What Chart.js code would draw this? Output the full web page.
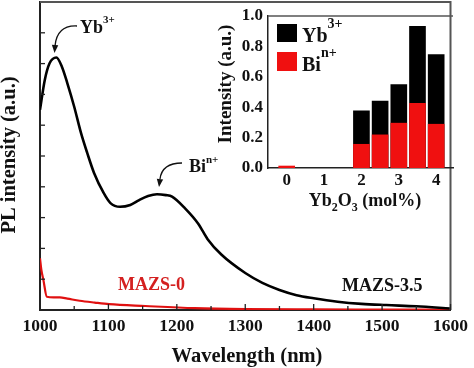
<!DOCTYPE html>
<html><head><meta charset="utf-8">
<script src="https://cdn.jsdelivr.net/npm/chart.js@4.4.0/dist/chart.umd.min.js"></script>
<style>
html,body{margin:0;padding:0;background:#fff;}
#wrap{position:relative;width:474px;height:368px;overflow:hidden;}
#main{position:absolute;left:0;top:0;}
#inset{position:absolute;left:215px;top:0;}
</style></head><body>
<div id="wrap"><canvas id="main" width="474" height="368"></canvas><canvas id="inset" width="242" height="222"></canvas></div>
<script>
// ---- data ----
const wavelengthMAZS35 = [1000,1007,1014,1024,1032,1040,1050,1060,1069,1079,1093,1103,1117,1132,1145,1158,1171,1184,1193,1212,1231,1245,1265,1300,1325,1350,1375,1400,1435,1470,1506,1550,1600];
const intensityMAZS35  = [6.5,7.47,8.01,8.2,7.9,7.36,6.6,5.74,5.1,4.45,3.8,3.47,3.35,3.41,3.57,3.7,3.76,3.73,3.68,3.3,2.81,2.3,1.8,1.2,0.88,0.65,0.48,0.38,0.27,0.2,0.16,0.12,0.05];
const wavelengthMAZS0 = [1000,1002,1005,1010,1020,1029,1040,1058,1080,1101,1154,1226,1300,1400,1500,1600];
const intensityMAZS0  = [1.68,1.3,0.97,0.43,0.41,0.41,0.37,0.3,0.24,0.19,0.13,0.06,0.03,0.02,0.015,0.01];
const wavelengthTicks = [1000,1100,1200,1300,1400,1500,1600];
const yb2o3Content = [0, 2, 2.5, 3, 3.5, 4];
const ybIntensity  = [0, 0.376, 0.44, 0.549, 0.932, 0.747];
const biIntensity  = [0.013, 0.156, 0.218, 0.295, 0.426, 0.288];
const contentTicks = [0, 1, 2, 3, 4];
const intensityTicks = [0, 0.2, 0.4, 0.6, 0.8, 1.0];

const FONT = "'Liberation Serif', 'Times New Roman', serif";
function f(size){ return "bold " + size + "px " + FONT; }
// rich text: parts = [[text, size, dy]]
function rich(ctx, parts, x, y, align){
  let w = 0;
  parts.forEach(p => { ctx.font = f(p[1]); w += ctx.measureText(p[0]).width; });
  let cx = align === 'center' ? x - w/2 : x;
  ctx.textAlign = 'left'; ctx.textBaseline = 'alphabetic';
  parts.forEach(p => { ctx.font = f(p[1]); ctx.fillText(p[0], cx, y + p[2]); cx += ctx.measureText(p[0]).width; });
}
function arrow(ctx, sx, sy, cx, cy, ex, ey, tx, ty){
  ctx.save();
  ctx.strokeStyle = '#111'; ctx.fillStyle = '#111'; ctx.lineWidth = 1.3;
  ctx.beginPath(); ctx.moveTo(sx, sy); ctx.quadraticCurveTo(cx, cy, ex, ey); ctx.stroke();
  const ang = Math.atan2(ty - ey, tx - ex);
  ctx.beginPath();
  ctx.moveTo(tx, ty);
  ctx.lineTo(tx - 8*Math.cos(ang) + 3.2*Math.sin(ang), ty - 8*Math.sin(ang) - 3.2*Math.cos(ang));
  ctx.lineTo(tx - 8*Math.cos(ang) - 3.2*Math.sin(ang), ty - 8*Math.sin(ang) + 3.2*Math.cos(ang));
  ctx.closePath(); ctx.fill();
  ctx.restore();
}

const mainDeco = {
  id: 'mainDeco',
  afterDatasetsDraw(chart){
    const ctx = chart.ctx, a = chart.chartArea, xs = chart.scales.x, ys = chart.scales.y;
    ctx.save();
    // frame top/right
    ctx.strokeStyle = '#555'; ctx.lineWidth = 2;
    ctx.beginPath(); ctx.moveTo(a.left, a.top); ctx.lineTo(a.right, a.top); ctx.lineTo(a.right, a.bottom); ctx.stroke();
    // inward ticks
    ctx.strokeStyle = '#222'; ctx.lineWidth = 1.3;
    for (let v = 1000; v <= 1600; v += 50){
      const px = xs.getPixelForValue(v), len = (v % 100 === 0) ? 6 : 4;
      ctx.beginPath(); ctx.moveTo(px, a.bottom); ctx.lineTo(px, a.bottom - len); ctx.stroke();
    }
    for (let v = 1; v < 10; v++){
      const py = ys.getPixelForValue(v);
      ctx.beginPath(); ctx.moveTo(a.left, py); ctx.lineTo(a.left + 5, py); ctx.stroke();
    }
    // titles
    ctx.fillStyle = '#111';
    ctx.font = f(20.5); ctx.textAlign = 'center'; ctx.textBaseline = 'middle';
    ctx.fillText('Wavelength (nm)', 247, 357);
    ctx.save(); ctx.translate(10, 155); ctx.rotate(-Math.PI/2);
    ctx.fillText('PL intensity (a.u.)', 0, 0); ctx.restore();
    // annotations
    rich(ctx, [['Yb',18,0],['3+',11,-10]], 80, 33, 'left');
    rich(ctx, [['Bi',18,0],['n+',11,-9]], 189, 172, 'left');
    ctx.font = f(18); ctx.textAlign = 'left'; ctx.textBaseline = 'alphabetic';
    ctx.fillStyle = '#d42020'; ctx.fillText('MAZS-0', 118, 290);
    ctx.fillStyle = '#111'; ctx.fillText('MAZS-3.5', 342, 291);
    arrow(ctx, 77, 26, 57, 25, 55, 46, 54.5, 53);
    arrow(ctx, 182, 163, 162, 163, 160, 179, 159, 187);
    ctx.restore();
  }
};

new Chart(document.getElementById('main'), {
  type: 'line',
  data: {
    datasets: [
      { data: wavelengthMAZS35.map((x,i)=>({x, y:intensityMAZS35[i]})), borderColor:'#000', borderWidth:2.6, pointRadius:0, cubicInterpolationMode:'monotone', fill:false },
      { data: wavelengthMAZS0.map((x,i)=>({x, y:intensityMAZS0[i]})), borderColor:'#e01010', borderWidth:2.2, pointRadius:0, cubicInterpolationMode:'monotone', fill:false }
    ]
  },
  options: {
    responsive:false, animation:false, devicePixelRatio:1,
    layout:{padding:{left:0, right:19, top:2, bottom:0}},
    plugins:{legend:{display:false}, tooltip:{enabled:false}},
    scales:{
      x:{type:'linear', min:1000, max:1600,
         afterBuildTicks: s => { s.ticks = wavelengthTicks.map(v=>({value:v})); },
         grid:{display:false, drawTicks:false},
         border:{display:true, color:'#222', width:2},
         ticks:{color:'#111', font:{family:FONT, weight:'bold', size:17.5}, padding:6, maxRotation:0, autoSkip:false, callback: v => String(v)},
         afterFit: s => { s.height = 58; }},
      y:{type:'linear', min:0, max:10,
         ticks:{display:false, stepSize:1},
         grid:{display:false, drawTicks:false},
         border:{display:true, color:'#222', width:2},
         afterFit: s => { s.width = 40; }}
    }
  },
  plugins:[mainDeco]
});

const insetDeco = {
  id: 'insetDeco',
  afterDatasetsDraw(chart){
    const ctx = chart.ctx, a = chart.chartArea;
    ctx.save();
    ctx.strokeStyle = '#555'; ctx.lineWidth = 1.5;
    ctx.beginPath(); ctx.moveTo(a.left, a.top); ctx.lineTo(a.right, a.top); ctx.stroke();
    // legend
    ctx.fillStyle = '#000'; ctx.fillRect(62, 24, 20, 18);
    ctx.fillStyle = '#f01010'; ctx.fillRect(62, 52, 20, 19);
    ctx.fillStyle = '#111';
    rich(ctx, [['Yb',20,0],['3+',14,-14]], 87, 42, 'left');
    rich(ctx, [['Bi',20,0],['n+',14,-14]], 87, 71, 'left');
    // titles
    ctx.font = f(19); ctx.textAlign = 'center'; ctx.textBaseline = 'middle';
    ctx.save(); ctx.translate(11, 84); ctx.rotate(-Math.PI/2);
    ctx.fillText('Intensity (a.u.)', 0, 0); ctx.restore();
    rich(ctx, [['Yb',18,0],['2',12,5],['O',18,0],['3',12,5],[' (mol%)',18,0]], 150, 206, 'center');
    ctx.restore();
  }
};

new Chart(document.getElementById('inset'), {
  type: 'bar',
  data: {
    datasets: [
      { label:'Bi', data: yb2o3Content.map((x,i)=>({x, y:biIntensity[i]})), backgroundColor:'#f01010', borderWidth:0, barThickness:16, grouped:false },
      { label:'Yb', data: yb2o3Content.map((x,i)=>({x, y:ybIntensity[i]})), backgroundColor:'#000', borderWidth:0, barThickness:16, grouped:false }
    ]
  },
  options: {
    responsive:false, animation:false, devicePixelRatio:1,
    layout:{padding:{left:0, right:4, top:16, bottom:0}},
    plugins:{legend:{display:false}, tooltip:{enabled:false}},
    scales:{
      x:{type:'linear', min:-0.5, max:4.45, offset:false,
         afterBuildTicks: s => { s.ticks = contentTicks.map(v=>({value:v})); },
         grid:{display:false, drawTicks:false},
         border:{display:true, color:'#222', width:1.5},
         ticks:{color:'#111', font:{family:FONT, weight:'bold', size:17}, padding:2, maxRotation:0, autoSkip:false},
         afterFit: s => { s.height = 54; }},
      y:{type:'linear', min:0, max:1.0,
         afterBuildTicks: s => { s.ticks = intensityTicks.map(v=>({value:v})); },
         grid:{display:false, drawTicks:false},
         border:{display:true, color:'#222', width:1.5},
         ticks:{color:'#111', font:{family:FONT, weight:'bold', size:17}, padding:5, autoSkip:false, callback: v => Number(v).toFixed(1)},
         afterFit: s => { s.width = 53; }}
    }
  },
  plugins:[insetDeco]
});
</script>
</body></html>
